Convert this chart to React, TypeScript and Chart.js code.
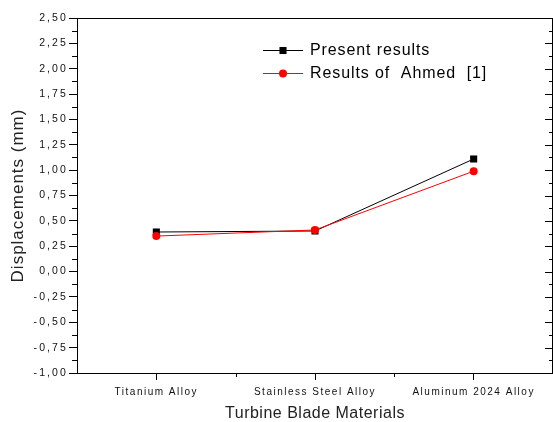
import React, { useEffect, useRef } from 'react';
import { Chart, registerables } from 'chart.js';

Chart.register(...registerables);

const categories = ['Titanium Alloy', 'Stainless Steel Alloy', 'Aluminum 2024 Alloy'];
const presentResults = [0.39, 0.40, 1.11];
const ahmedResults = [0.35, 0.41, 0.99];
const seriesLabels = ['Present results', 'Results of  Ahmed  [1]'];
const yMin = -1;
const yMax = 2.5;
const yStep = 0.25;

const FONT = "'Liberation Sans', Arial, Helvetica, sans-serif";

const SPACING: Record<string, { labels: string; title: string }> = {
  x: { labels: '1.5px', title: '0.5px' },
  y: { labels: '2.1px', title: '1px' },
};

const spacingPlugin = {
  id: 'letterSpacing',
  beforeDraw(chart: any) {
    for (const id of Object.keys(chart.scales)) {
      const s: any = chart.scales[id];
      const sp = SPACING[id];
      if (!sp || s.__wrapped) continue;
      const origL = s.drawLabels;
      const origT = s.drawTitle;
      s.drawLabels = function (a: any) {
        const c = this.ctx;
        c.save();
        c.letterSpacing = sp.labels;
        origL.call(this, a);
        c.restore();
      };
      s.drawTitle = function () {
        const c = this.ctx;
        c.save();
        c.letterSpacing = sp.title;
        origT.call(this);
        c.restore();
      };
      s.__wrapped = true;
    }
  },
};

const framePlugin = {
  id: 'frameAndLegend',
  afterDraw(chart: any) {
    const { ctx, chartArea } = chart;
    const { left, right, top, bottom } = chartArea;
    const ys = chart.scales.y;
    const xs = chart.scales.x;
    ctx.save();
    ctx.strokeStyle = '#000';
    ctx.lineWidth = 1;
    ctx.beginPath();
    ctx.moveTo(left, top + 0.5);
    ctx.lineTo(right, top + 0.5);
    ctx.moveTo(right - 0.5, top);
    ctx.lineTo(right - 0.5, bottom);
    const n = Math.round((yMax - yMin) / (yStep / 2));
    for (let k = 0; k <= n; k++) {
      const v = yMin + (k * yStep) / 2;
      const p = Math.round(ys.getPixelForValue(v)) + 0.5;
      const major = k % 2 === 0;
      if (!major) {
        ctx.moveTo(left - 5, p);
        ctx.lineTo(left, p);
      }
      ctx.moveTo(right, p);
      ctx.lineTo(right - (major ? 8 : 4), p);
    }
    for (let i = 0; i < categories.length - 1; i++) {
      const px = Math.round((xs.getPixelForValue(i) + xs.getPixelForValue(i + 1)) / 2) + 0.5;
      ctx.moveTo(px, bottom);
      ctx.lineTo(px, bottom + 4);
    }
    ctx.stroke();

    // legend
    const lx0 = 263;
    const lx1 = 303;
    const tx = 310;
    chart.data.datasets.forEach((ds: any, i: number) => {
      const y = 50.5 + i * 23;
      ctx.strokeStyle = ds.borderColor;
      ctx.lineWidth = 1;
      ctx.beginPath();
      ctx.moveTo(lx0, y);
      ctx.lineTo(lx1, y);
      ctx.stroke();
      const mx = (lx0 + lx1) / 2;
      ctx.fillStyle = ds.backgroundColor;
      if (ds.pointStyle === 'rect') {
        const h = ds.pointRadius * Math.SQRT1_2;
        ctx.fillRect(mx - h, y - h, 2 * h, 2 * h);
      } else {
        ctx.beginPath();
        ctx.arc(mx, y, ds.pointRadius, 0, Math.PI * 2);
        ctx.fill();
      }
      ctx.fillStyle = '#000';
      ctx.font = `16px ${FONT}`;
      ctx.letterSpacing = '0.9px';
      ctx.textBaseline = 'middle';
      ctx.textAlign = 'left';
      ctx.fillText(ds.label, tx, y);
    });
    ctx.restore();
  },
};

export default function App() {
  const ref = useRef<HTMLCanvasElement | null>(null);

  useEffect(() => {
    if (!ref.current) return;
    const chart = new Chart(ref.current, {
      type: 'line',
      data: {
        labels: categories,
        datasets: [
          {
            label: seriesLabels[0],
            data: presentResults,
            borderColor: '#000000',
            backgroundColor: '#000000',
            borderWidth: 1,
            pointStyle: 'rect',
            pointRadius: 5,
            pointBorderWidth: 0,
            tension: 0,
            order: 1,
          },
          {
            label: seriesLabels[1],
            data: ahmedResults,
            borderColor: '#ff0000',
            backgroundColor: '#ff0000',
            borderWidth: 1,
            pointStyle: 'circle',
            pointRadius: 4,
            pointBorderWidth: 0,
            tension: 0,
            order: 0,
          },
        ],
      },
      options: {
        animation: false,
        responsive: false,
        devicePixelRatio: 1,
        layout: { padding: { top: 18, right: 3, left: 0, bottom: 0 } },
        plugins: { legend: { display: false }, tooltip: { enabled: false } },
        scales: {
          x: {
            type: 'category',
            offset: true,
            grid: {
              offset: false,
              drawOnChartArea: false,
              drawTicks: true,
              tickLength: 7,
              tickColor: '#000',
              tickWidth: 1,
            },
            border: { display: true, color: '#000', width: 1 },
            ticks: {
              font: { family: FONT, size: 10 },
              color: '#111',
              padding: 6,
              maxRotation: 0,
              autoSkip: false,
            },
            title: {
              display: true,
              text: 'Turbine Blade Materials',
              font: { family: FONT, size: 16, lineHeight: 1 },
              color: '#222',
              padding: { top: 0, bottom: 0 },
            },
            afterFit(s: any) {
              s.height = 49;
            },
          },
          y: {
            type: 'linear',
            min: yMin,
            max: yMax,
            grid: {
              drawOnChartArea: false,
              drawTicks: true,
              tickLength: 8,
              tickColor: '#000',
              tickWidth: 1,
            },
            border: { display: true, color: '#000', width: 1 },
            ticks: {
              stepSize: yStep,
              font: { family: FONT, size: 10.5 },
              color: '#111',
              padding: 1,
              callback: (v: any) => Number(v).toFixed(2).replace('.', ','),
            },
            title: {
              display: true,
              text: 'Displacements (mm)',
              font: { family: FONT, size: 17, lineHeight: 1 },
              color: '#222',
              padding: { top: 9.5, bottom: 0 },
            },
            afterFit(s: any) {
              s.width = 77;
            },
          },
        },
      },
      plugins: [spacingPlugin, framePlugin],
    } as any);
    return () => chart.destroy();
  }, []);

  return (
    <div
      style={{
        position: 'absolute',
        left: 0,
        top: 0,
        width: 553,
        height: 422,
        overflow: 'hidden',
        background: '#fff',
      }}
    >
      <canvas ref={ref} width={558} height={422} style={{ display: 'block', width: 558, height: 422 }} />
    </div>
  );
}
